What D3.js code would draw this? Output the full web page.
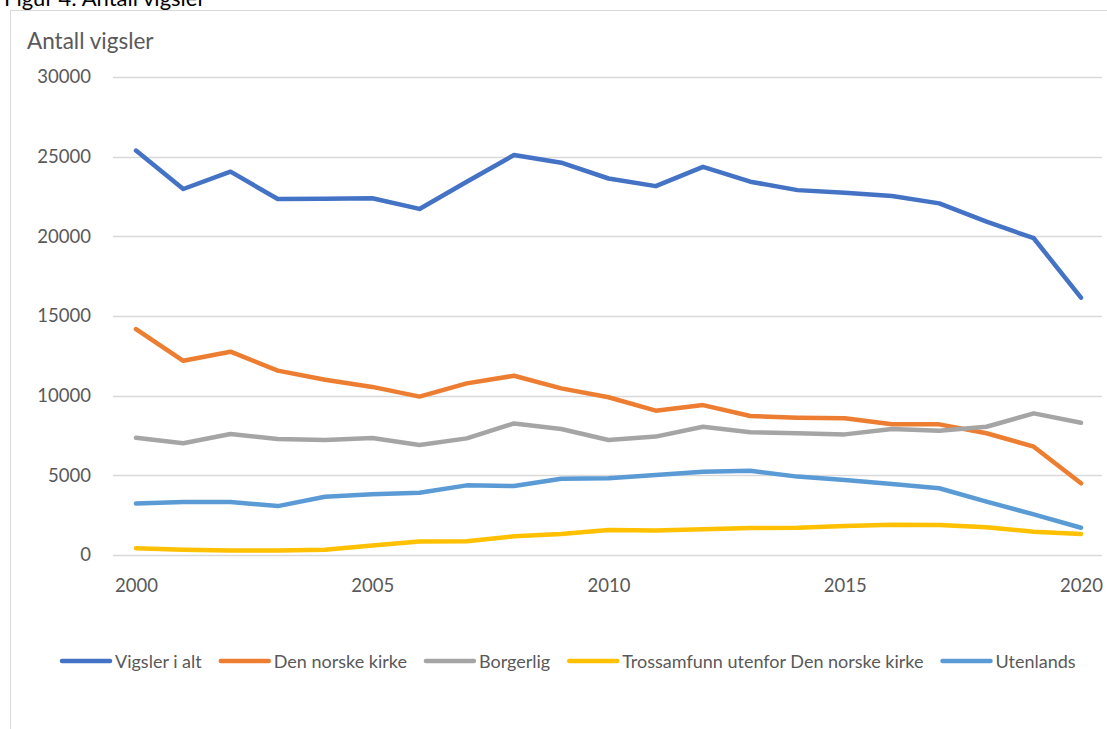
<!DOCTYPE html>
<html>
<head>
<meta charset="utf-8">
<script src="https://cdn.jsdelivr.net/npm/d3@7"></script>
<style>
  body { margin: 0; background: #fff; }
  text { font-family: Lato, "Open Sans", sans-serif; }
</style>
</head>
<body>
<div id="chart"></div>
<script>
// Antall vigsler 2000-2020

var years = d3.range(2000, 2021)

var vigslerIAlt = [25380, 22970, 24060, 22340, 22360, 22390, 21720, 23430, 25100, 24620,
  23630, 23150, 24360, 23430, 22900, 22740, 22530, 22070, 20920, 19880, 16150]
var denNorskeKirke = [14180, 12190, 12760, 11570, 11000, 10550, 9940, 10770, 11250, 10460,
  9900, 9060, 9410, 8720, 8620, 8580, 8200, 8200, 7640, 6800, 4500]
var borgerlig = [7360, 7010, 7590, 7280, 7220, 7340, 6900, 7320, 8260, 7910,
  7220, 7430, 8050, 7700, 7640, 7570, 7910, 7800, 8050, 8890, 8300]
var trossamfunn = [420, 330, 290, 290, 330, 590, 840, 860, 1170, 1320,
  1570, 1530, 1610, 1690, 1710, 1820, 1900, 1880, 1740, 1460, 1320]
var utenlands = [3240, 3320, 3320, 3070, 3660, 3810, 3910, 4370, 4330, 4790,
  4810, 5020, 5230, 5290, 4920, 4710, 4460, 4190, 3350, 2550, 1710]

var yTicks = [0, 5000, 10000, 15000, 20000, 25000, 30000]
var xTicks = [2000, 2005, 2010, 2015, 2020]

var series = [
  { name: 'Vigsler i alt', values: vigslerIAlt, color: '#4472C4' },
  { name: 'Den norske kirke', values: denNorskeKirke, color: '#ED7D31' },
  { name: 'Borgerlig', values: borgerlig, color: '#A5A5A5' },
  { name: 'Trossamfunn utenfor Den norske kirke', values: trossamfunn, color: '#FFC000' },
  { name: 'Utenlands', values: utenlands, color: '#5B9BD5' },
]

var width = 1107
var height = 729

var svg = d3.select('#chart')
  .append('svg')
    .attr('width', width)
    .attr('height', height)

// caption above the frame, mostly cut off in the source
svg.append('text')
  .attr('x', 4)
  .attr('y', 6)
  .attr('font-size', 22)
  .attr('fill', '#000')
  .text('Figur 4: Antall vigsler')

// chart frame
svg.append('rect')
  .attr('x', 10.5)
  .attr('y', 10.5)
  .attr('width', width + 20)
  .attr('height', height + 20)
  .attr('fill', '#fff')
  .attr('stroke', '#d9d9d9')

svg.append('text')
  .attr('x', 27)
  .attr('y', 49)
  .attr('font-size', 22.5)
  .attr('fill', '#595959')
  .text('Antall vigsler')

var x = d3.scaleLinear().domain([2000, 2020]).range([136, 1081])
var y = d3.scaleLinear().domain([0, 30000]).range([555, 77])

// gridlines
svg.append('g')
  .selectAll('line')
  .data(yTicks)
  .enter()
  .append('line')
    .attr('x1', 113)
    .attr('x2', 1102)
    .attr('y1', (d) => Math.round(y(d)) + 0.5)
    .attr('y2', (d) => Math.round(y(d)) + 0.5)
    .attr('stroke', '#d9d9d9')
    .attr('stroke-width', 1.3)

// y axis labels
var yAxis = svg.append('g')
  .attr('transform', 'translate(91,0)')
  .call(d3.axisLeft(y).tickValues(yTicks).tickSize(0).tickPadding(0).tickFormat(d3.format('d')))
yAxis.select('.domain').remove()
yAxis.selectAll('text')
  .attr('font-size', 18.5)
  .attr('fill', '#595959')
  .attr('font-family', 'Lato, sans-serif')

// x axis labels
var xAxis = svg.append('g')
  .attr('transform', 'translate(0,579)')
  .call(d3.axisBottom(x).tickValues(xTicks).tickSize(0).tickPadding(0).tickFormat(d3.format('d')))
xAxis.select('.domain').remove()
xAxis.selectAll('text')
  .attr('font-size', 18.5)
  .attr('fill', '#595959')
  .attr('font-family', 'Lato, sans-serif')

var line = d3.line()
  .x((d, i) => x(years[i]))
  .y((d) => y(d))

svg.append('g')
  .selectAll('path')
  .data(series)
  .enter()
  .append('path')
    .attr('d', (d) => line(d.values))
    .attr('fill', 'none')
    .attr('stroke', (d) => d.color)
    .attr('stroke-width', 4.5)
    .attr('stroke-linejoin', 'round')
    .attr('stroke-linecap', 'round')

// legend
var legend = svg.append('g').attr('transform', 'translate(0,661)')
var lx = 62
series.forEach(function (s) {
  legend.append('line')
    .attr('x1', lx)
    .attr('x2', lx + 48)
    .attr('y1', 0)
    .attr('y2', 0)
    .attr('stroke', s.color)
    .attr('stroke-width', 4.5)
    .attr('stroke-linecap', 'round')
  var t = legend.append('text')
    .attr('x', lx + 53)
    .attr('y', 6.5)
    .attr('font-size', 18)
    .attr('fill', '#595959')
    .text(s.name)
  lx += 53 + t.node().getComputedTextLength() + 19
})
</script>
</body>
</html>
